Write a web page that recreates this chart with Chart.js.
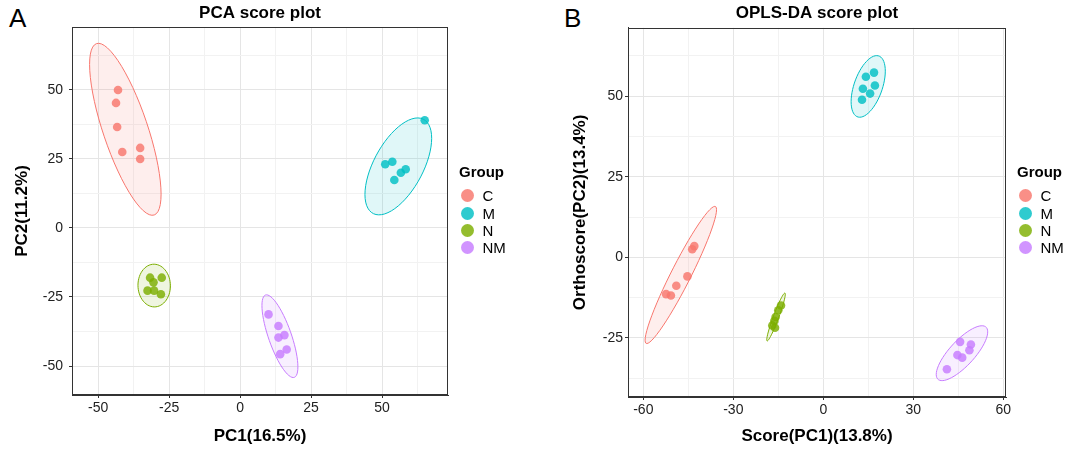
<!DOCTYPE html>
<html>
<head>
<meta charset="utf-8">
<script src="https://cdn.jsdelivr.net/npm/chart.js@4.4.1/dist/chart.umd.min.js"></script>
<style>
  html, body { margin: 0; padding: 0; background: #fff; }
  body { width: 1073px; height: 452px; position: relative; overflow: hidden; font-family: "Liberation Sans", Arial, sans-serif; }
  .panel { position: absolute; top: 0; }
  .tag { position: absolute; top: 3px; font-size: 26px; color: #000; line-height: 30px; }
  .legend { position: absolute; color: #000; font-size: 15px; }
  .legend .ttl { font-weight: bold; height: 26px; line-height: 22px; margin-left: -8px; }
  .legend .item { display: flex; align-items: center; height: 17.4px; }
  .legend .dot { width: 13px; height: 13px; border-radius: 50%; margin-left: -6.5px; margin-right: 9px; }
</style>
</head>
<body>
<div class="tag" style="left:9px">A</div>
<div class="tag" style="left:564px">B</div>
<div class="panel" style="left:0"><canvas id="pcaChart" width="540" height="452"></canvas></div>
<div class="panel" style="left:545px"><canvas id="oplsChart" width="528" height="452"></canvas></div>
<div class="legend" id="legendA" style="left:467px; top:161px"></div>
<div class="legend" id="legendB" style="left:1025px; top:161px"></div>

<script>
const groups = ['C', 'M', 'N', 'NM'];
const groupColors = ['#F8766D', '#00BFC4', '#7CAE00', '#C77CFF'];

// PCA scores (PC1, PC2)
const pcaC  = [[-43.0, 50.0], [-43.7, 45.3], [-43.3, 36.6], [-41.5, 27.5], [-35.2, 29.0], [-35.2, 25.0]];
const pcaM  = [[65.0, 39.0], [51.1, 23.1], [53.6, 24.0], [58.3, 21.3], [56.6, 20.0], [54.3, 17.4]];
const pcaN  = [[-31.7, -18.0], [-27.6, -18.0], [-30.5, -19.7], [-32.6, -22.7], [-30.3, -22.7], [-27.9, -24.0]];
const pcaNM = [[10.0, -31.3], [13.5, -35.5], [15.6, -38.8], [13.5, -39.7], [16.4, -44.0], [14.1, -45.7]];

// OPLS-DA scores (Score PC1, Orthoscore PC2)
const oplsC  = [[-43.0, 3.5], [-43.7, 2.5], [-45.3, -5.9], [-49.0, -8.8], [-50.8, -11.8], [-52.4, -11.4]];
const oplsM  = [[16.9, 57.3], [14.2, 56.0], [17.2, 53.3], [13.2, 52.3], [15.6, 50.8], [12.9, 48.9]];
const oplsN  = [[-14.1, -14.9], [-15.0, -16.4], [-15.9, -18.5], [-16.3, -19.7], [-17.0, -21.1], [-16.1, -21.8]];
const oplsNM = [[45.6, -26.2], [49.2, -27.0], [48.7, -28.8], [44.7, -30.3], [46.3, -31.1], [41.2, -34.7]];

// axes
const pcaXTicks = [-50, -25, 0, 25, 50];
const pcaYTicks = [-50, -25, 0, 25, 50];
const pcaXRange = [-59.2, 73.2];
const pcaYRange = [-60.5, 72.8];
const oplsXTicks = [-60, -30, 0, 30, 60];
const oplsYTicks = [-25, 0, 25, 50];
const oplsXRange = [-65.1, 60.9];
const oplsYRange = [-43.3, 71.2];

const FONT = 'Liberation Sans, Arial, sans-serif';

function rgba(hex, a) {
    const n = parseInt(hex.slice(1), 16);
    return `rgba(${n >> 16}, ${(n >> 8) & 255}, ${n & 255}, ${a})`;
}

// MASS::cov.trob (nu = 5), as used by ggplot2 stat_ellipse(type = "t")
function covTrob(pts) {
    const n = pts.length, p = 2, nu = 5;
    let w = pts.map(() => 1);
    let lx = pts.reduce((s, q) => s + q[0], 0) / n;
    let ly = pts.reduce((s, q) => s + q[1], 0) / n;
    let X = [];
    for (let it = 0; it < 25; it++) {
        const w0 = w.slice();
        X = pts.map(q => [q[0] - lx, q[1] - ly]);
        const sw = w.reduce((s, v) => s + v, 0);
        let a = 0, b = 0, c = 0;
        X.forEach((d, i) => {
            a += w[i] * d[0] * d[0] / sw;
            b += w[i] * d[0] * d[1] / sw;
            c += w[i] * d[1] * d[1] / sw;
        });
        const det = a * c - b * b;
        w = X.map(d => (nu + p) / (nu + (c * d[0] * d[0] - 2 * b * d[0] * d[1] + a * d[1] * d[1]) / det));
        const sw2 = w.reduce((s, v) => s + v, 0);
        lx = pts.reduce((s, q, i) => s + w[i] * q[0], 0) / sw2;
        ly = pts.reduce((s, q, i) => s + w[i] * q[1], 0) / sw2;
        if (w.every((v, i) => Math.abs(v - w0[i]) < 0.01)) break;
    }
    let a = 0, b = 0, c = 0;
    X.forEach((d, i) => {
        a += w[i] * d[0] * d[0] / n;
        b += w[i] * d[0] * d[1] / n;
        c += w[i] * d[1] * d[1] / n;
    });
    return { center: [lx, ly], cov: [a, b, c] };
}

function ellipsePoints(pts, level = 0.95, segments = 60) {
    const { center, cov } = covTrob(pts);
    const dfd = pts.length - 1;
    const qf = dfd / 2 * (Math.pow(1 - level, -2 / dfd) - 1); // F quantile, dfn = 2
    const radius = Math.sqrt(2 * qf);
    const r11 = Math.sqrt(cov[0]);
    const r12 = cov[1] / r11;
    const r22 = Math.sqrt(cov[2] - r12 * r12);
    const out = [];
    for (let k = 0; k <= segments; k++) {
        const t = k * 2 * Math.PI / segments;
        const cs = Math.cos(t), sn = Math.sin(t);
        out.push([center[0] + radius * cs * r11, center[1] + radius * (cs * r12 + sn * r22)]);
    }
    return out;
}

const ellipsePlugin = {
    id: 'groupEllipse',
    beforeDatasetsDraw(chart) {
        const { ctx, chartArea: area, scales: { x, y } } = chart;
        ctx.save();
        ctx.beginPath();
        ctx.rect(area.left, area.top, area.width, area.height);
        ctx.clip();
        chart.data.datasets.forEach((ds, i) => {
            const ring = ellipsePoints(ds.data.map(d => [d.x, d.y]));
            ctx.beginPath();
            ring.forEach(([vx, vy], k) => {
                const px = x.getPixelForValue(vx), py = y.getPixelForValue(vy);
                if (k === 0) ctx.moveTo(px, py); else ctx.lineTo(px, py);
            });
            ctx.closePath();
            ctx.fillStyle = rgba(groupColors[i], 0.12);
            ctx.fill();
            ctx.strokeStyle = groupColors[i];
            ctx.lineWidth = 1;
            ctx.stroke();
        });
        ctx.restore();
    }
};

const framePlugin = {
    id: 'panelFrame',
    afterDraw(chart) {
        const { ctx, chartArea: a } = chart;
        ctx.save();
        ctx.strokeStyle = '#333';
        ctx.lineWidth = 1;
        ctx.strokeRect(Math.round(a.left) + 0.5, Math.round(a.top) + 0.5, Math.round(a.width) - 1, Math.round(a.height) - 1);
        ctx.restore();
    }
};

// major breaks plus ggplot-style minor breaks halfway between them
function axisTicks(majors, range) {
    const half = (majors[1] - majors[0]) / 2;
    const out = [];
    for (let v = majors[0] - half; v <= majors[majors.length - 1] + half + 1e-9; v += half) {
        if (v < range[0] || v > range[1]) continue;
        out.push({ value: v, minorLine: !majors.includes(v) });
    }
    return out;
}

function makeScale(majors, range, title, o) {
    return {
        type: 'linear',
        min: range[0],
        max: range[1],
        afterBuildTicks: (s) => { s.ticks = axisTicks(majors, range); },
        afterFit: (s) => { if (s.isHorizontal()) s.height = o.size; else s.width = o.size; },
        ticks: {
            autoSkip: false,
            maxRotation: 0,
            padding: o.pad,
            color: '#222',
            font: { family: FONT, size: 14 },
            callback: (v) => majors.includes(v) ? String(v) : ''
        },
        grid: {
            color: (c) => c.tick && c.tick.minorLine ? '#f2f2f2' : '#e5e5e5',
            lineWidth: 1,
            tickLength: 3,
            tickColor: (c) => c.tick && c.tick.minorLine ? 'rgba(0,0,0,0)' : '#333'
        },
        border: { display: true, color: '#333', width: 1 },
        title: {
            display: true,
            text: title,
            color: '#000',
            font: { family: FONT, size: 17, weight: 'bold' },
            padding: o.titlePad
        }
    };
}

function makeChart(id, sets, cfg) {
    return new Chart(document.getElementById(id), {
        type: 'scatter',
        data: {
            datasets: sets.map((pts, i) => ({
                label: groups[i],
                data: pts.map(([x, y]) => ({ x, y })),
                backgroundColor: rgba(groupColors[i], 0.82),
                borderWidth: 0,
                pointRadius: 4.3,
                pointHoverRadius: 4.3
            }))
        },
        options: {
            responsive: false,
            animation: false,
            events: [],
            layout: { padding: { left: 0, top: 0, bottom: 0, right: cfg.padRight } },
            scales: {
                x: makeScale(cfg.xTicks, cfg.xRange, cfg.xTitle, { size: cfg.xSize, pad: 2, titlePad: { top: 0, bottom: 5 } }),
                y: makeScale(cfg.yTicks, cfg.yRange, cfg.yTitle, { size: cfg.ySize, pad: cfg.yPad, titlePad: { top: cfg.yTitleTop, bottom: 0 } })
            },
            plugins: {
                legend: { display: false },
                tooltip: { enabled: false },
                title: {
                    display: true,
                    text: cfg.title,
                    fullSize: false,
                    color: '#000',
                    font: { family: FONT, size: 17, weight: 'bold' },
                    padding: { top: 3, bottom: cfg.titleBottom }
                }
            }
        },
        plugins: [ellipsePlugin, framePlugin]
    });
}

makeChart('pcaChart', [pcaC, pcaM, pcaN, pcaNM], {
    title: 'PCA score plot', titleBottom: 3.6,
    xTicks: pcaXTicks, xRange: pcaXRange, xTitle: 'PC1(16.5%)', xSize: 57,
    yTicks: pcaYTicks, yRange: pcaYRange, yTitle: 'PC2(11.2%)', ySize: 72, yPad: 6, yTitleTop: 12,
    padRight: 92
});

makeChart('oplsChart', [oplsC, oplsM, oplsN, oplsNM], {
    title: 'OPLS-DA score plot', titleBottom: 4.4,
    xTicks: oplsXTicks, xRange: oplsXRange, xTitle: 'Score(PC1)(13.8%)', xSize: 55,
    yTicks: oplsYTicks, yRange: oplsYRange, yTitle: 'Orthoscore(PC2)(13.4%)', ySize: 83, yPad: 2, yTitleTop: 25,
    padRight: 67
});

function buildLegend(id) {
    const box = document.getElementById(id);
    let html = '<div class="ttl">Group</div>';
    groups.forEach((g, i) => {
        html += `<div class="item"><span class="dot" style="background:${rgba(groupColors[i], 0.82)}"></span>${g}</div>`;
    });
    box.innerHTML = html;
}
buildLegend('legendA');
buildLegend('legendB');
</script>
</body>
</html>
